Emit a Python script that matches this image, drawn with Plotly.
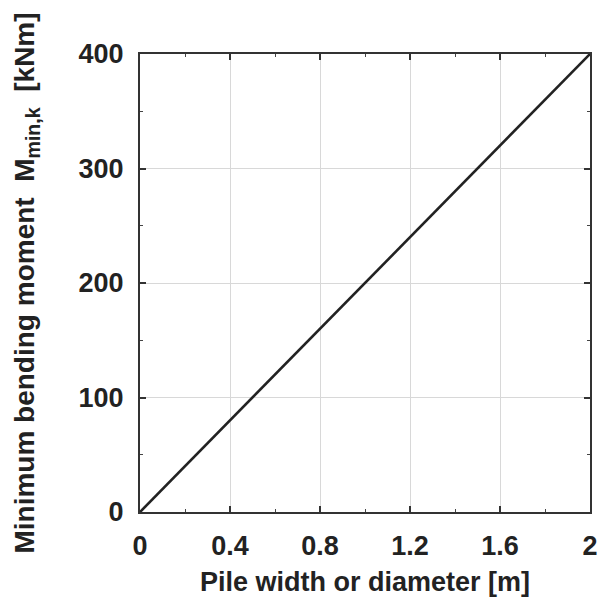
import plotly.graph_objects as go

# Minimum bending moment vs. pile width
pile_width = [0.0, 0.4, 0.8, 1.2, 1.6, 2.0]
min_moment = [0, 80, 160, 240, 320, 400]

x_ticks = [0, 0.4, 0.8, 1.2, 1.6, 2]
x_tick_text = ["0", "0.4", "0.8", "1.2", "1.6", "2"]
y_ticks = [0, 100, 200, 300, 400]

FONT = "Liberation Sans, Arial, sans-serif"
INK = "#222222"
TICK_FONT = dict(family=FONT, size=27, color=INK, weight="bold")
X_TITLE_FONT = dict(family=FONT, size=27, color=INK, weight="bold")
Y_TITLE_FONT = dict(family=FONT, size=28, color=INK, weight="bold")

fig = go.Figure(
    go.Scatter(
        x=pile_width,
        y=min_moment,
        mode="lines",
        line=dict(color=INK, width=2.6),
        showlegend=False,
        hoverinfo="skip",
    )
)

axis_common = dict(
    showline=True,
    linecolor="#333333",
    linewidth=2,
    mirror="ticks",
    ticks="inside",
    ticklen=6,
    tickwidth=1.5,
    tickcolor="#333333",
    showgrid=True,
    gridcolor="#d8d8d8",
    gridwidth=1,
    zeroline=False,
    tickfont=TICK_FONT,
    minor=dict(ticks="inside", ticklen=3, tickwidth=1.2,
               tickcolor="#444444", showgrid=False),
)

fig.update_layout(
    width=608,
    height=606,
    margin=dict(l=140, r=10, t=54, b=94),
    paper_bgcolor="white",
    plot_bgcolor="white",
    font=dict(family=FONT, color=INK),
    xaxis=dict(
        range=[0, 2],
        tickvals=x_ticks,
        ticktext=x_tick_text,
        title=dict(text="Pile width or diameter [m]", font=X_TITLE_FONT, standoff=12),
        ticklabelstandoff=9,
        **axis_common,
    ),
    yaxis=dict(
        range=[0, 400],
        tickvals=y_ticks,
        title=dict(text="Minimum bending moment  M<sub>min,k</sub>  [kNm]",
                   font=Y_TITLE_FONT, standoff=36),
        ticklabelstandoff=9,
        **axis_common,
    ),
)

fig.update_xaxes(minor_dtick=0.2)
fig.update_yaxes(minor_dtick=50)

fig.write_html("out.html")
